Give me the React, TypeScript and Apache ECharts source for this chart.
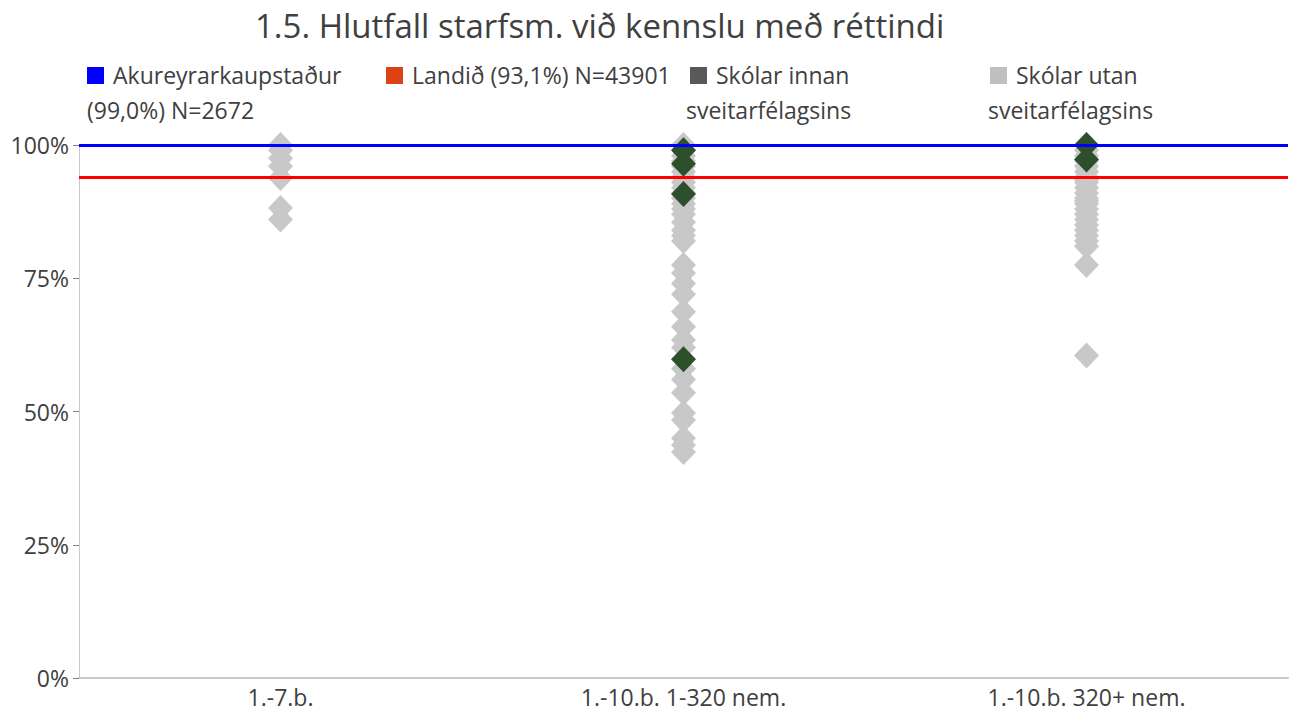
import React, { useEffect, useRef } from "react";
import * as echarts from "echarts";

const categories = ["1.-7.b.", "1.-10.b. 1-320 nem.", "1.-10.b. 320+ nem."];
const yTicks = [0, 25, 50, 75, 100];

// Skólar utan sveitarfélagsins (light grey diamonds), per category
const utanCat1 = [100, 99, 97.5, 96, 93.8, 88.2, 86];
const utanCat2 = [100, 99, 98, 97, 96, 95, 94, 93, 92, 91, 90, 89, 88, 87, 85.5, 84, 83, 82,
  77.5, 76, 74, 72, 68.7, 65.9, 63.4, 62, 58, 56, 53.5, 49.7, 48.4, 45, 43.7, 42.4];
const utanCat3 = [100, 99, 98, 97, 96, 95, 94, 93.5, 93, 92, 91, 90, 89.5, 89, 88, 87, 86, 85,
  84, 83, 82, 81, 77.5, 60.5];

// Skólar innan sveitarfélagsins (dark green diamonds)
const innanCat2 = [99, 96.5, 90.8, 59.8];
const innanCat3 = [100, 97.3];

// Reference lines
const akureyriValue = 100;
const landidValue = 94;

const legendItems = [
  { color: "#0000ff", line1: "Akureyrarkaupstaður", line2: "(99,0%) N=2672", x: 87, x2: 87 },
  { color: "#dd4215", line1: "Landið (93,1%) N=43901", line2: "", x: 386, x2: 386 },
  { color: "#595959", line1: "Skólar innan", line2: "sveitarfélagsins", x: 690, x2: 686 },
  { color: "#bfbfbf", line1: "Skólar utan", line2: "sveitarfélagsins", x: 990, x2: 988 },
];

const FONT = "'Open Sans', Lato, sans-serif";
const TEXT = "#404040";
const FS = 23;

export default function App() {
  const ref = useRef<HTMLDivElement>(null);
  useEffect(() => {
    if (!ref.current) return;
    const chart = echarts.init(ref.current, null, { renderer: "svg" });
    const utanData = [
      ...utanCat1.map((v) => [0, v]),
      ...utanCat2.map((v) => [1, v]),
      ...utanCat3.map((v) => [2, v]),
    ];
    const innanData = [...innanCat2.map((v) => [1, v]), ...innanCat3.map((v) => [2, v])];

    const graphics: any[] = [];
    legendItems.forEach((it) => {
      graphics.push({
        type: "rect",
        shape: { x: it.x, y: 67, width: 17, height: 17 },
        style: { fill: it.color },
      });
      graphics.push({
        type: "text",
        x: it.x + 26,
        y: 75,
        style: { text: it.line1, fill: TEXT, font: `${FS}px ${FONT}`, textVerticalAlign: "middle" },
      });
      if (it.line2) {
        graphics.push({
          type: "text",
          x: it.x2,
          y: 110,
          style: { text: it.line2, fill: TEXT, font: `${FS}px ${FONT}`, textVerticalAlign: "middle" },
        });
      }
    });

    chart.setOption({
      animation: false,
      backgroundColor: "#ffffff",
      title: {
        text: "1.5. Hlutfall starfsm. við kennslu með réttindi",
        left: 250,
        top: 4,
        textStyle: { fontFamily: FONT, fontSize: 33, fontWeight: "normal", color: TEXT },
      },
      graphic: graphics,
      grid: { left: 79, right: 16, top: 145, bottom: 33, containLabel: false },
      xAxis: {
        type: "category",
        data: categories,
        boundaryGap: true,
        axisLine: { lineStyle: { color: "#c8c8c8", width: 2 } },
        axisTick: { show: false },
        axisLabel: { fontFamily: FONT, fontSize: FS, color: TEXT, margin: 7 },
        splitLine: { show: false },
      },
      yAxis: {
        type: "value",
        min: yTicks[0],
        max: yTicks[yTicks.length - 1],
        interval: 25,
        axisLine: { show: true, lineStyle: { color: "#c8c8c8", width: 1 } },
        axisTick: { show: true, length: 6, lineStyle: { color: "#808080" } },
        axisLabel: { fontFamily: FONT, fontSize: FS, color: TEXT, margin: 10, formatter: "{value}%" },
        splitLine: { show: false },
      },
      series: [
        {
          type: "line",
          name: "lines",
          data: [],
          z: 1,
          markLine: {
            silent: true,
            symbol: "none",
            label: { show: false },
            data: [
              { yAxis: akureyriValue, lineStyle: { color: "#0000ff", width: 3, type: "solid" } },
              { yAxis: landidValue, lineStyle: { color: "#ff0000", width: 3, type: "solid" } },
            ],
          },
        },
        {
          type: "scatter",
          name: "Skólar utan sveitarfélagsins",
          data: utanData,
          symbol: "diamond",
          symbolSize: [25, 26],
          itemStyle: { color: "#c8c8c8", opacity: 1 },
          clip: false,
          z: 3,
        },
        {
          type: "scatter",
          name: "Skólar innan sveitarfélagsins",
          data: innanData,
          symbol: "diamond",
          symbolSize: [25, 26],
          itemStyle: { color: "#2e4f2c", opacity: 1 },
          clip: false,
          z: 4,
        },
      ],
    });
    return () => chart.dispose();
  }, []);
  return (
    <div
      ref={ref}
      style={{ position: "fixed", left: 0, top: 0, width: 1304, height: 711, background: "#fff" }}
    />
  );
}
